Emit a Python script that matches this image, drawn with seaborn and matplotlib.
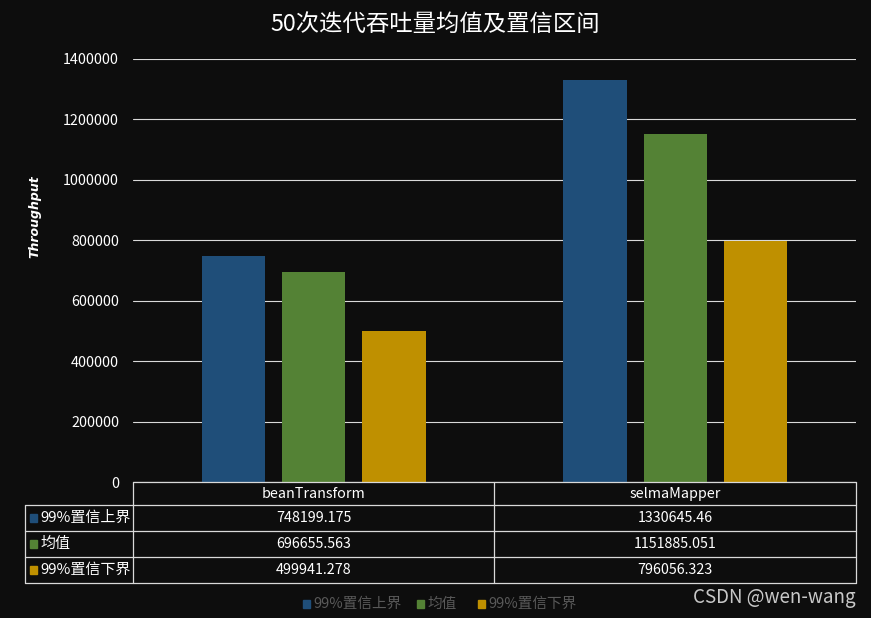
import matplotlib
matplotlib.use("Agg")
import matplotlib.pyplot as plt
import seaborn as sns
import pandas as pd
from matplotlib.lines import Line2D
from matplotlib.patches import Rectangle

categories = ["beanTransform", "selmaMapper"]
series = ["99%置信上界", "均值", "99%置信下界"]
upper = [748199.175, 1330645.46]
mean = [696655.563, 1151885.051]
lower = [499941.278, 796056.323]
upper_txt = ["748199.175", "1330645.46"]
mean_txt = ["696655.563", "1151885.051"]
lower_txt = ["499941.278", "796056.323"]
yticks = [0, 200000, 400000, 600000, 800000, 1000000, 1200000, 1400000]
title = "50次迭代吞吐量均值及置信区间"
colors = ["#1f4e79", "#548235", "#bf9000"]

rows = []
for s, vals in zip(series, [upper, mean, lower]):
    for c, v in zip(categories, vals):
        rows.append({"category": c, "series": s, "value": v})
df = pd.DataFrame(rows)

sns.set_theme(style="dark")
plt.rcParams["font.family"] = ["Noto Sans CJK SC", "DejaVu Sans"]
BG = "#0d0d0d"
W, H = 871, 618
fig = plt.figure(figsize=(W / 100, H / 100), dpi=100, facecolor=BG)

def fx(x):
    return x / W

def fy(y):
    return 1 - y / H

ax = fig.add_axes([fx(133), fy(482), fx(856) - fx(133), fy(59) - fy(482)])
ax.set_facecolor(BG)
sns.barplot(data=df, x="category", y="value", hue="series", hue_order=series,
            palette=colors, order=categories, width=0.665, gap=0.21,
            saturation=1, ax=ax, legend=False, edgecolor="none", linewidth=0)
ax.set_xlim(-0.5, 1.5)
ax.set_ylim(0, 1400000)
ax.set_yticks(yticks)
ax.set_yticklabels([str(t) for t in yticks], color="white", fontsize=10.3)
ax.set_xticks([])
ax.set_xlabel("")
ax.set_ylabel("")
ax.grid(axis="y", color="#d9d9d9", linewidth=0.8)
ax.grid(axis="x", visible=False)
ax.set_axisbelow(True)
ax.tick_params(axis="y", length=0, pad=10)
for sp in ax.spines.values():
    sp.set_visible(False)

fig.text(fx(435), fy(24), title, ha="center", va="center", color="white", fontsize=16.8)
fig.text(fx(35), fy(217), "Throughput", rotation=90, ha="center", va="center",
         color="white", fontsize=9, fontweight="bold", fontstyle="italic",
         family=["DejaVu Sans"])

# table
lc = "#d9d9d9"
def hline(y, x0, x1):
    fig.add_artist(Line2D([fx(x0), fx(x1)], [fy(y), fy(y)], color=lc, lw=0.9))
def vline(x, y0, y1):
    fig.add_artist(Line2D([fx(x), fx(x)], [fy(y0), fy(y1)], color=lc, lw=0.9))

hline(482, 133, 856)
for y in [505, 531, 557, 583]:
    hline(y, 25, 856)
vline(25, 505, 583)
for x in [133, 494, 856]:
    vline(x, 482, 583)

col_centers = [313.5, 675]
for c, cx in zip(categories, col_centers):
    fig.text(fx(cx), fy(494), c, ha="center", va="center", color="white", fontsize=10.3)
row_y = [518, 544, 570]
for s, col, ry, txts in zip(series, colors, row_y, [upper_txt, mean_txt, lower_txt]):
    fig.add_artist(Rectangle((fx(30), fy(ry + 4)), fx(7), fy(0) - fy(8),
                             transform=fig.transFigure, color=col))
    fig.text(fx(40), fy(ry), s, ha="left", va="center", color="white", fontsize=10.8)
    for t, cx in zip(txts, col_centers):
        fig.text(fx(cx), fy(ry), t, ha="center", va="center", color="white", fontsize=10.3)

# legend
leg_x = [303, 417, 478]
for s, col, lx in zip(series, colors, leg_x):
    fig.add_artist(Rectangle((fx(lx), fy(608)), fx(7), fy(0) - fy(8),
                             transform=fig.transFigure, color=col))
    fig.text(fx(lx + 10), fy(604), s, ha="left", va="center", color="#595959", fontsize=10.5)

fig.text(fx(856), fy(598), "CSDN @wen-wang", ha="right", va="center",
         color="#c8c8c8", fontsize=13.5)

fig.savefig("out.png", dpi=100, facecolor=BG)
